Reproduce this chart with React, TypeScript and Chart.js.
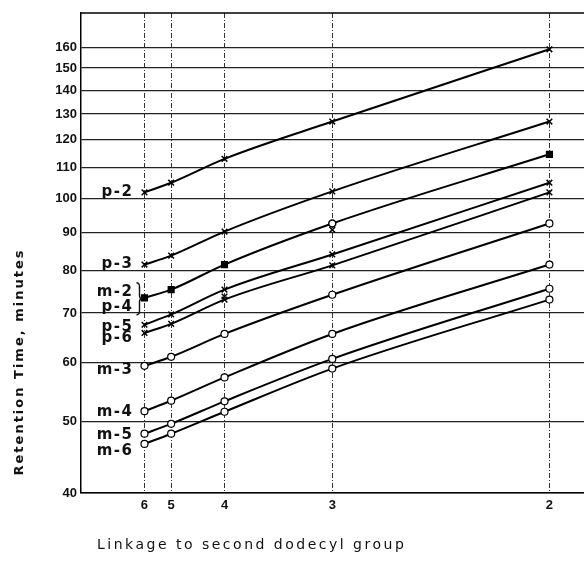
import React, { useEffect, useRef } from "react";
import { Chart, registerables } from "chart.js";
Chart.register(...registerables);

// Linkage positions (x) and their labels
const linkageLabels = ["6", "5", "4", "3", "2"];
const linkagePos = [11.9, 16.9, 26.9, 47.1, 87.8];
const yTickValues = [40, 50, 60, 70, 80, 90, 100, 110, 120, 130, 140, 150, 160];

// Retention times (minutes) at linkage 6, 5, 4, 3, 2
const p2 = [101.9, 105.0, 113.1, 127.0, 159.0];
const p3 = [81.4, 83.7, 90.2, 102.2, 127.0];
const m2 = [73.4, 75.3, 81.4, 92.5, 114.7];
const p4 = [null, null, 73.7, 90.7, null];
const p5 = [67.5, 69.7, 75.3, 84.0, 105.0];
const p6 = [65.8, 67.7, 73.0, 81.2, 101.9];
const m3 = [59.4, 61.1, 65.6, 74.1, 92.5];
const m4 = [51.6, 53.3, 57.3, 65.6, 81.4];
const m5 = [48.1, 49.6, 53.2, 60.7, 75.5];
const m6 = [46.6, 48.1, 51.5, 58.9, 73.0];

const seriesNames = ["p-2", "p-3", "m-2", "p-4", "p-5", "p-6", "m-3", "m-4", "m-5", "m-6"];
const labelAnchor = [101.9, 81.4, 73.4, 73.4, 67.5, 65.8, 59.4, 51.6, 48.1, 46.6];

const yTitle = "Retention Time, minutes";
const xTitle = "Linkage to second dodecyl group";

const toPts = (arr: (number | null)[]) =>
  arr.map((v, i) => ({ x: linkagePos[i], y: v }));

export default function App() {
  const ref = useRef<HTMLCanvasElement | null>(null);

  useEffect(() => {
    const canvas = ref.current;
    if (!canvas) return;

    const labelDy = [0, 0, -6, 9, 2, 5, 4, 1, 1, 7];

    const annotate = {
      id: "annotate",
      afterDraw(chart: any) {
        const ctx = chart.ctx;
        const { left, right, top } = chart.chartArea;
        const xs = chart.scales.x;
        const ys = chart.scales.y;
        ctx.save();
        // top border
        ctx.strokeStyle = "#000";
        ctx.lineWidth = 1.5;
        ctx.beginPath();
        ctx.moveTo(left, top);
        ctx.lineTo(right, top);
        ctx.stroke();

        ctx.fillStyle = "#111";
        // series labels
        ctx.font = "bold 15px 'DejaVu Sans'";
        (ctx as any).letterSpacing = "1.5px";
        ctx.textAlign = "right";
        ctx.textBaseline = "middle";
        const x0 = xs.getPixelForValue(linkagePos[0]) - 11;
        seriesNames.forEach((name, i) => {
          const y = ys.getPixelForValue(labelAnchor[i]) + labelDy[i];
          ctx.fillText(name, x0, y);
        });
        // brace for m-2 / p-4
        const yb1 = ys.getPixelForValue(labelAnchor[2]) - 15;
        const yb2 = ys.getPixelForValue(labelAnchor[3]) + 17;
        const ym = (yb1 + yb2) / 2;
        const bx = x0 + 3;
        ctx.lineWidth = 1.4;
        ctx.strokeStyle = "#111";
        ctx.beginPath();
        ctx.moveTo(bx, yb1);
        ctx.quadraticCurveTo(bx + 3, yb1, bx + 3, yb1 + 4);
        ctx.lineTo(bx + 3, ym - 3);
        ctx.quadraticCurveTo(bx + 3, ym, bx + 6, ym);
        ctx.quadraticCurveTo(bx + 3, ym, bx + 3, ym + 3);
        ctx.lineTo(bx + 3, yb2 - 4);
        ctx.quadraticCurveTo(bx + 3, yb2, bx, yb2);
        ctx.stroke();

        // axis titles
        ctx.font = "bold 13px 'DejaVu Sans'";
        (ctx as any).letterSpacing = "2px";
        ctx.textAlign = "center";
        ctx.textBaseline = "middle";
        ctx.save();
        ctx.translate(20, 362);
        ctx.rotate(-Math.PI / 2);
        ctx.fillText(yTitle, 0, 0);
        ctx.restore();

        ctx.font = "14px 'DejaVu Sans'";
        (ctx as any).letterSpacing = "2.5px";
        ctx.textAlign = "left";
        ctx.fillText(xTitle, 97, 545);
        ctx.restore();
      },
    };

    const lineDs = (label: string, data: (number | null)[], style: string) => {
      const base: any = {
        label,
        data: toPts(data),
        borderColor: "#000",
        borderWidth: 2,
        cubicInterpolationMode: "monotone",
        pointRadius: 4,
        pointBorderColor: "#000",
        pointBorderWidth: 1.5,
      };
      if (style === "x") {
        base.pointStyle = "crossRot";
        base.pointBackgroundColor = "#000";
      } else if (style === "sq") {
        base.pointStyle = ["rect", "rect", "rect", "circle", "rect"];
        base.pointBackgroundColor = ["#000", "#000", "#000", "#fff", "#000"];
        base.pointRadius = [4, 4, 4, 3.5, 4];
      } else {
        base.pointStyle = "circle";
        base.pointRadius = 3.5;
        base.pointBackgroundColor = "#fff";
        base.pointBorderWidth = 1.2;
      }
      return base;
    };

    const tickFont = { family: "'Liberation Sans'", size: 13, weight: "bold" };

    const chart = new Chart(canvas, {
      type: "line",
      data: {
        datasets: [
          lineDs("p-2", p2, "x"),
          lineDs("p-3", p3, "x"),
          lineDs("m-2", m2, "sq"),
          {
            label: "p-4",
            data: toPts(p4),
            showLine: false,
            pointStyle: "crossRot",
            pointRadius: 4,
            pointBorderColor: "#000",
            pointBorderWidth: 1.5,
            borderColor: "#000",
          } as any,
          lineDs("p-5", p5, "x"),
          lineDs("p-6", p6, "x"),
          lineDs("m-3", m3, "o"),
          lineDs("m-4", m4, "o"),
          lineDs("m-5", m5, "o"),
          lineDs("m-6", m6, "o"),
        ],
      },
      options: {
        responsive: false,
        animation: false,
        devicePixelRatio: 1,
        layout: { padding: { top: 13, left: 0, right: 0, bottom: 0 } },
        plugins: { legend: { display: false }, tooltip: { enabled: false } },
        scales: {
          x: {
            type: "linear",
            min: 0,
            max: 100,
            afterBuildTicks: (s: any) => {
              s.ticks = linkagePos.map((v) => ({ value: v }));
            },
            afterFit: (s: any) => {
              s.height = 75;
            },
            ticks: {
              callback: (v: any) => {
                const i = linkagePos.indexOf(Number(v));
                return i >= 0 ? linkageLabels[i] : "";
              },
              color: "#111",
              font: tickFont,
              padding: 5,
              maxRotation: 0,
              autoSkip: false,
            },
            grid: { color: "#333", lineWidth: 1, drawTicks: false },
            border: { display: true, color: "#000", width: 1.5, dash: [5, 2, 1, 2] },
          },
          y: {
            type: "logarithmic",
            min: 40,
            max: 178,
            afterBuildTicks: (s: any) => {
              s.ticks = yTickValues.map((v) => ({ value: v }));
            },
            afterFit: (s: any) => {
              s.width = 81;
            },
            ticks: {
              callback: (v: any) => String(v),
              color: "#111",
              font: tickFont,
              padding: 4,
              autoSkip: false,
            },
            grid: { color: "#222", lineWidth: 1.2, drawTicks: false },
            border: { display: true, color: "#000", width: 1.5 },
          },
        },
      },
      plugins: [annotate],
    } as any);

    return () => chart.destroy();
  }, []);

  return (
    <div
      style={{
        position: "fixed",
        left: 0,
        top: 0,
        width: 584,
        height: 568,
        overflow: "hidden",
        background: "#fff",
      }}
    >
      <canvas ref={ref} width={620} height={568} style={{ display: "block" }} />
    </div>
  );
}
